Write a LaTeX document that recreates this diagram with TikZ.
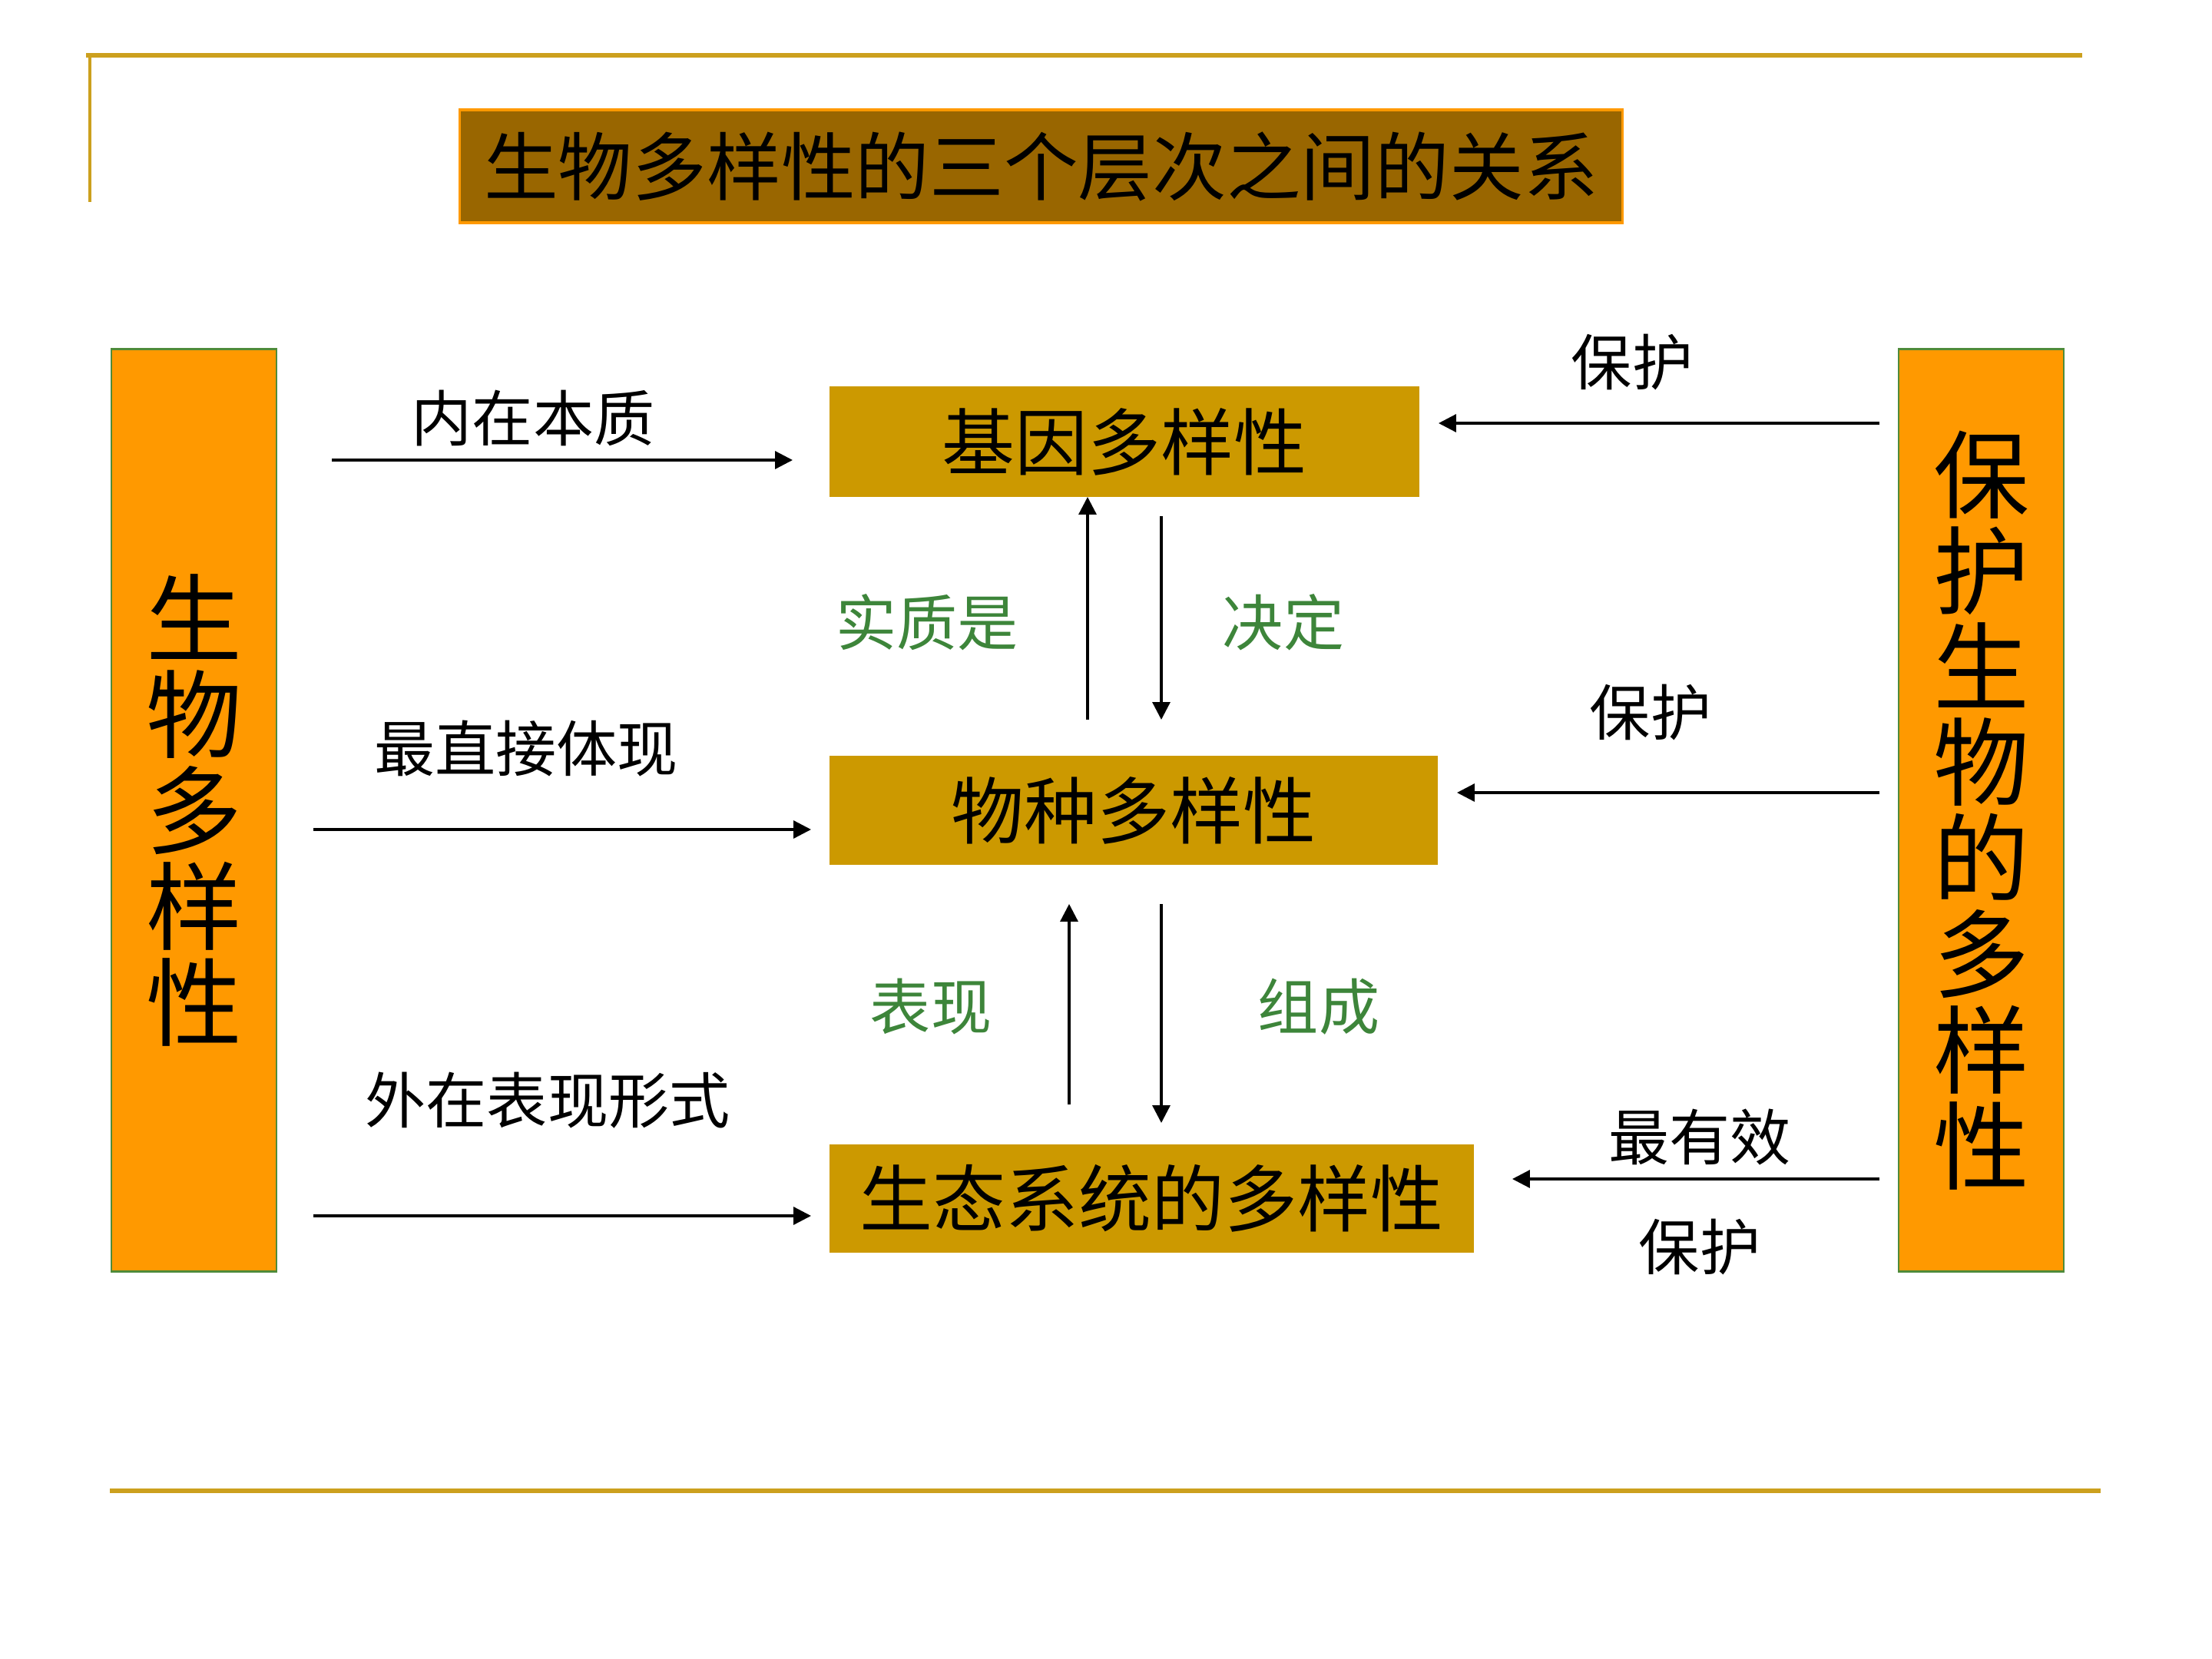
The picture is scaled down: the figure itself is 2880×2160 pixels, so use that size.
\documentclass[tikz,border=0pt]{standalone}
\usepackage{fontspec}
\newfontfamily\cjk{Noto Sans CJK SC}
\usetikzlibrary{arrows.meta}
\definecolor{gold}{HTML}{CC9900}
\definecolor{rulegold}{RGB}{204,160,30}
\definecolor{darkgold}{HTML}{996600}
\definecolor{orng}{HTML}{FF9900}
\definecolor{grn}{RGB}{79,139,58}
\definecolor{lblgreen}{RGB}{61,133,58}
\begin{document}
\begin{tikzpicture}[x=0.01cm,y=-0.01cm, font=\cjk,
  levelbox/.style={fill=gold, inner sep=0pt, font=\cjk\fontsize{27}{27}\selectfont},
  sidebox/.style={fill=orng, draw=grn, line width=0.75pt, minimum width=2.15cm, minimum height=12cm, inner sep=0pt, align=center, font=\cjk\fontsize{35.5}{35.5}\selectfont},
  lbl/.style={inner sep=0pt, font=\cjk\fontsize{22.5}{22.5}\selectfont},
  glbl/.style={lbl, text=lblgreen},
  arr/.style={line width=0.95pt, -{Triangle[length=6.5pt,width=6.5pt]}},
  rule/.style={draw=rulegold}
]
\useasboundingbox (0,0) rectangle (2880,2160);
% frame rules
\draw[rule, line width=1.7pt] (112,72) -- (2711,72);
\draw[rule, line width=1pt] (117,72) -- (117,263);
\draw[rule, line width=1.6pt] (143,1941) -- (2735,1941);
% title
\node[fill=darkgold, draw=orng, line width=1pt, minimum width=15.13cm, minimum height=1.47cm, inner sep=0pt,
  font=\cjk\fontsize{27.5}{27.5}\selectfont] (title) at (1355.5,216.5) {生物多样性的三个层次之间的关系};
% side boxes
\node[sidebox] (left) at (252.5,1055) {生\\物\\多\\样\\性};
\node[sidebox] (right) at (2579.5,1055) {保\\护\\生\\物\\的\\多\\样\\性};
% level boxes
\node[levelbox, minimum width=7.68cm, minimum height=1.44cm] (gene) at (1464,575) {基因多样性};
\node[levelbox, minimum width=7.92cm, minimum height=1.42cm] (species) at (1476,1055) {物种多样性};
\node[levelbox, minimum width=8.39cm, minimum height=1.41cm] (eco) at (1499.5,1560.5) {生态系统的多样性};
% coordinates for arrow ends
\coordinate (l1s) at (432,599);  \coordinate (l1e) at (1032,599);
\coordinate (l2s) at (408,1080); \coordinate (l2e) at (1056,1080);
\coordinate (l3s) at (408,1583); \coordinate (l3e) at (1056,1583);
\coordinate (r1s) at (2447,551); \coordinate (r1e) at (1873,551);
\coordinate (r2s) at (2447,1032); \coordinate (r2e) at (1897,1032);
\coordinate (r3s) at (2447,1535); \coordinate (r3e) at (1969,1535);
\coordinate (u1s) at (1416,937); \coordinate (u1e) at (1416,647);
\coordinate (d1s) at (1512,672); \coordinate (d1e) at (1512,937);
\coordinate (u2s) at (1392,1438); \coordinate (u2e) at (1392,1177);
\coordinate (d2s) at (1512,1177); \coordinate (d2e) at (1512,1462);
% arrows
\draw[arr] (l1s) -- (l1e);
\draw[arr] (l2s) -- (l2e);
\draw[arr] (l3s) -- (l3e);
\draw[arr] (r1s) -- (r1e);
\draw[arr] (r2s) -- (r2e);
\draw[arr] (r3s) -- (r3e);
\draw[arr] (u1s) -- (u1e);
\draw[arr] (d1s) -- (d1e);
\draw[arr] (u2s) -- (u2e);
\draw[arr] (d2s) -- (d2e);
% labels
\node[lbl] (t1) at (694,545) {内在本质};
\node[lbl] (t2) at (685,975) {最直接体现};
\node[lbl] (t3) at (713,1433) {外在表现形式};
\node[lbl] (t4) at (2125,472) {保护};
\node[lbl] (t5) at (2149,928) {保护};
\node[lbl] (t6) at (2213,1480) {最有效};
\node[lbl] (t7) at (2213,1624) {保护};
\node[glbl] (g1) at (1207,810) {实质是};
\node[glbl] (g2) at (1671,810) {决定};
\node[glbl] (g3) at (1212,1311) {表现};
\node[glbl] (g4) at (1717,1311) {组成};
\end{tikzpicture}
\end{document}
